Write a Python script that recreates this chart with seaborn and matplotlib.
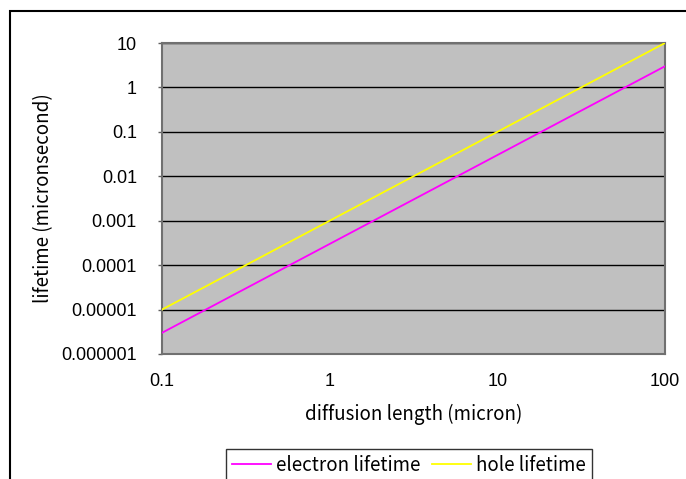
import matplotlib
matplotlib.use("Agg")
import matplotlib.pyplot as plt
import seaborn as sns
import pandas as pd
from matplotlib.patches import Rectangle
from matplotlib.lines import Line2D

diffusion_length = [0.1, 1, 10, 100]
electron_lifetime = [3.0e-6, 3.0e-4, 3.0e-2, 3.0]
hole_lifetime = [1.0e-5, 1.0e-3, 1.0e-1, 10.0]
series_names = ["electron lifetime", "hole lifetime"]
y_ticks = [1e-6, 1e-5, 1e-4, 1e-3, 1e-2, 1e-1, 1, 10]
y_tick_labels = ["0.000001", "0.00001", "0.0001", "0.001", "0.01", "0.1", "1", "10"]
x_ticks = [0.1, 1, 10, 100]
x_tick_labels = ["0.1", "1", "10", "100"]

plt.rcParams['font.family'] = ['Liberation Sans', 'DejaVu Sans']
label_family = ['Noto Sans CJK JP', 'DejaVu Sans']

df = pd.DataFrame({
    "x": diffusion_length * 2,
    "y": electron_lifetime + hole_lifetime,
    "series": [series_names[0]] * len(diffusion_length) + [series_names[1]] * len(diffusion_length),
})

fig = plt.figure(figsize=(6.86, 4.79), dpi=100)
ax = fig.add_axes([162/686, 125/479, 503/686, 311/479])
ax.set_facecolor("#C0C0C0")

sns.lineplot(data=df, x="x", y="y", hue="series",
             palette={series_names[0]: "#FF00FF", series_names[1]: "#FFFF00"},
             linewidth=1.3, ax=ax, legend=False, zorder=3)

ax.set_xscale("log")
ax.set_yscale("log")
ax.set_xlim(0.1, 100)
ax.set_ylim(1e-6, 10)
ax.set_xticks(x_ticks)
ax.set_xticklabels(x_tick_labels)
ax.set_yticks(y_ticks)
ax.set_yticklabels(y_tick_labels)
ax.minorticks_off()
ax.tick_params(axis="both", labelsize=13, length=3, color="#606060", width=1)
ax.tick_params(axis="x", pad=14, length=0)
ax.tick_params(axis="y", pad=15, length=3)
ax.yaxis.grid(True, color="black", linewidth=1)
ax.xaxis.grid(False)
ax.set_axisbelow(True)
for s in ax.spines.values():
    s.set_color("#707070")
    s.set_linewidth(1.5)

ax.set_xlabel("diffusion length (micron)", fontsize=13.5, family=label_family)
ax.set_ylabel("lifetime (micronsecond)", fontsize=13.5, family=label_family)
ax.xaxis.set_label_coords(0.5, (354 - 404) / 311)
ax.yaxis.set_label_coords((54 - 162) / 503, 0.5)

handles = [Line2D([], [], color="#FF00FF", lw=1.3), Line2D([], [], color="#FFFF00", lw=1.3)]
leg = fig.legend(handles, series_names, loc="upper left",
                 bbox_to_anchor=(226/686, 1 - 449/479), ncol=2, frameon=True,
                 fancybox=False, edgecolor="black",
                 handlelength=2.1, handletextpad=0.27, columnspacing=0.6,
                 borderpad=0.3, borderaxespad=0,
                 prop={'family': label_family, 'size': 13.5})
leg.get_frame().set_linewidth(1)

fig.patches.append(Rectangle((10/686, -0.1), 1.0, 1 - 11/479 + 0.1,
                             transform=fig.transFigure, fill=False,
                             edgecolor="black", linewidth=1.5))

fig.savefig("out.png", dpi=100)
